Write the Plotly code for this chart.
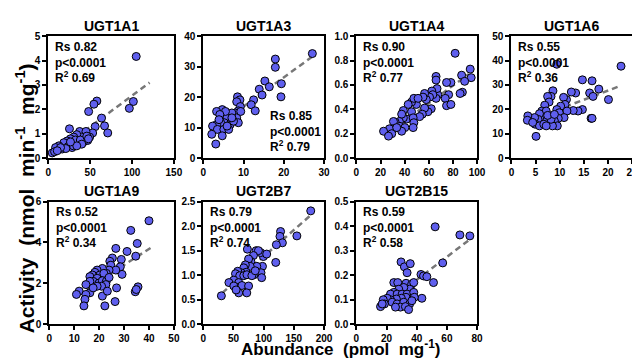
import plotly.graph_objects as go

W, H = 640, 360

# ---------------- data ----------------
ugt1a1_abundance = [105, 101.6, 96.8, 58, 54.5, 48.2, 63.6, 67.2, 71, 56, 53, 25.3, 37.5, 45, 49.4, 47, 40, 34,
                    30.4, 26.5, 22.5, 18.6, 28.5, 36, 42, 23.7, 28.5, 12.6, 8.7, 4.7, 7.5, 32.4, 38.3, 46, 16.6,
                    21, 30, 40, 34, 26.5, 48, 14.6, 10.7]
ugt1a1_activity = [4.17, 2.32, 2.04, 2.34, 2.21, 1.91, 1.64, 1.32, 1.03, 1.29, 1.03, 1.2, 1.09, 1.09, 0.86, 0.72,
                   0.86, 0.96, 0.86, 0.79, 0.70, 0.63, 0.57, 0.63, 0.66, 0.47, 0.43, 0.5, 0.43, 0.21, 0.26, 0.74,
                   0.74, 0.9, 0.37, 0.39, 0.5, 0.57, 0.5, 0.66, 0.79, 0.43, 0.3]

ugt1a3_abundance = [27.1, 17.9, 17.9, 19.4, 19.3, 15.3, 13.9, 16.4, 14.6, 12.5, 11.9, 12.9, 8.5, 9.1, 8.3, 9.2,
                    8.7, 7.9, 8.3, 8.7, 7.1, 5.9, 4.7, 3.3, 5.5, 4.1, 5.2, 6.7, 4.3, 3.3, 2.3, 3.5, 5.1, 6.3, 4.7,
                    3.1, 2.1, 7.5, 5.9, 3.9, 7.1, 9.3]
ugt1a3_activity = [34.3, 32.5, 29.8, 24.4, 20.1, 25.3, 22.6, 23.4, 20.7, 19.1, 17.5, 15.5, 20.1, 19.1, 18.5, 16.9,
                   15.5, 14.8, 13.2, 11.6, 14.8, 13.2, 15.9, 15.3, 15.3, 14.3, 11.6, 11.0, 11.6, 11.0, 10.5, 9.4,
                   9.4, 9.4, 7.3, 4.6, 7.8, 12.1, 10.5, 12.6, 13.2, 15.3]

ugt1a4_abundance = [81.8, 94.3, 95.1, 87.2, 89.7, 87.8, 85.9, 78.3, 74.7, 76.4, 73.6, 74.7, 78.3, 67.4, 66, 66, 66,
                    66.8, 62.5, 63.3, 60.6, 57.9, 56.5, 55.2, 62, 59.2, 56.5, 54.6, 52.4, 49.7, 45.7, 47.6, 51.1,
                    42.9, 38.9, 45.7, 41.6, 47, 47.6, 47, 38.9, 37.5, 35.6, 32.1, 30.7, 36.1, 40.2, 37.5, 30.7,
                    27.4, 29.3, 22.5, 26.6, 33.4]
ugt1a4_activity = [0.86, 0.73, 0.66, 0.68, 0.63, 0.54, 0.53, 0.62, 0.62, 0.52, 0.49, 0.43, 0.44, 0.52, 0.49, 0.67,
                   0.64, 0.57, 0.55, 0.52, 0.50, 0.48, 0.53, 0.50, 0.405, 0.38, 0.41, 0.36, 0.34, 0.44, 0.46,
                   0.49, 0.49, 0.44, 0.39, 0.38, 0.32, 0.33, 0.29, 0.25, 0.33, 0.36, 0.30, 0.295, 0.30, 0.26,
                   0.25, 0.22, 0.24, 0.24, 0.20, 0.22, 0.18, 0.25]

ugt1a6_abundance = [22.7, 9.4, 20.1, 18.1, 16.7, 14.7, 16.2, 16.9, 14.7, 13.8, 12.8, 13.3, 12.4, 11.4, 10.8, 11.1,
                    11.5, 10.2, 9.4, 9.9, 10.9, 9.7, 8.9, 9.5, 8.5, 8.6, 8.2, 7.5, 7.8, 6.9, 6.3, 7.2, 6.5, 5.8,
                    7.4, 8.2, 5.5, 4.8, 4.9, 5.8, 6.7, 3.4, 3.3, 4.4, 5.1, 7.2, 16.5, 16.7, 7.5, 8.9]
ugt1a6_activity = [37.7, 38.5, 24, 28.3, 31.7, 32.1, 26.7, 25.3, 19.9, 19.3, 19.5, 26.7, 27.1, 24, 24.9, 22, 19.3,
                   21.3, 19.9, 18.6, 16.6, 16.3, 15.2, 13.2, 13.2, 27.6, 25.3, 25.3, 23, 21.7, 19.3, 19.3, 16.6,
                   18.2, 15.9, 15.9, 15.9, 16.6, 13.9, 13.2, 13.9, 17.3, 15.5, 14.6, 8.9, 13.2, 16.3, 16.3,
                   17.5, 17.9]

ugt1a9_abundance = [40, 32.7, 35.3, 31.2, 34.7, 26.7, 25.3, 28.9, 24.3, 24.7, 28.5, 29.2, 26.7, 24, 22.9, 21.3,
                    19.2, 18.3, 17.3, 20.3, 21.9, 16.3, 19.2, 17.6, 16.3, 20, 21.3, 22.9, 24, 22.7, 21, 19.2,
                    14.7, 16.3, 12, 10.9, 14.7, 14.3, 13.9, 21.3, 22.3, 27, 26.4, 34.5, 35.6, 34.9, 23.3, 17.6]
ugt1a9_activity = [5.06, 4.59, 3.95, 3.56, 3.33, 3.71, 3.24, 3.17, 3.08, 2.89, 2.81, 2.44, 2.65, 2.65, 2.49, 2.73,
                   2.65, 2.54, 2.41, 2.41, 2.49, 2.33, 2.25, 2.1, 2.1, 2.02, 2.13, 2.1, 2.29, 1.94, 1.86, 1.86,
                   1.94, 1.54, 1.62, 1.46, 1.46, 1.22, 0.9, 1.38, 0.9, 1.78, 1.11, 1.59, 1.83, 1.7, 1.62, 1.78]

ugt2b7_abundance = [178, 155, 128, 127, 131, 121, 120, 99.5, 95, 87.5, 91.3, 73, 83, 78.8, 75, 98, 88.6, 95.6,
                    96.7, 84, 77.7, 69.6, 67, 71, 62.5, 57, 53.3, 60.3, 67, 72.3, 80.4, 50.5, 58.7, 42.4, 56,
                    64, 75, 50.5, 58.7, 72, 54.3, 29.9, 86, 105]
ugt2b7_activity = [2.31, 1.80, 1.89, 1.79, 1.66, 1.62, 1.26, 1.38, 1.46, 1.50, 1.50, 1.53, 1.40, 1.28, 1.33, 1.18,
                   1.18, 1.05, 0.95, 1.01, 1.18, 1.21, 1.15, 1.06, 1.05, 1.08, 1.03, 0.99, 0.99, 1.01, 0.99,
                   0.90, 0.85, 0.85, 0.75, 0.79, 0.78, 0.78, 0.64, 0.64, 0.70, 0.58, 1.09, 1.43]

ugt2b15_abundance = [52.2, 68.6, 75.2, 57.2, 51.1, 42.8, 44.5, 46.7, 43.4, 29.6, 31.8, 35.7, 33.6, 24.8, 27.4,
                     32.9, 36.6, 38, 35.3, 31.4, 28.1, 24.8, 22.6, 27, 30.3, 33.6, 38, 38.4, 32.9, 29.8, 26.5,
                     22.6, 20.4, 17.8, 18.6, 23.7, 27, 31.4, 35.3, 29.2, 32.5, 34.6, 25.9, 16, 17.1, 36.8]
ugt2b15_activity = [0.397, 0.364, 0.36, 0.25, 0.17, 0.203, 0.197, 0.194, 0.106, 0.254, 0.234, 0.247, 0.21, 0.17,
                    0.17, 0.167, 0.163, 0.17, 0.143, 0.15, 0.143, 0.13, 0.123, 0.123, 0.123, 0.123, 0.13, 0.11,
                    0.11, 0.106, 0.103, 0.1, 0.106, 0.1, 0.083, 0.09, 0.083, 0.09, 0.083, 0.07, 0.072, 0.06,
                    0.07, 0.072, 0.083, 0.096]

enzymes = ["UGT1A1", "UGT1A3", "UGT1A4", "UGT1A6", "UGT1A9", "UGT2B7", "UGT2B15"]
rs_values = ["0.82", "0.85", "0.90", "0.55", "0.52", "0.79", "0.59"]
p_values = ["p&lt;0.0001"] * 7
r2_values = ["0.69", "0.79", "0.77", "0.36", "0.34", "0.74", "0.58"]

# regression lines (slope, intercept, x-start, x-end)
fit_slope = [0.0255, 0.96, 0.00722, 0.755, 0.0783, 0.0108, 0.00468]
fit_intercept = [0.01, 7.3, 0.017, 12.6, 0.55, 0.30, -0.006]
fit_x_start = [4.7, 1.7, 23.9, 3.4, 11.6, 31.5, 18.2]
fit_x_end = [121, 27.4, 93.2, 22.2, 41.6, 181, 75.2]

x_max = [150, 30, 100, 25, 50, 200, 80]
x_dtick = [50, 10, 20, 5, 10, 50, 20]
y_max = [5, 40, 1.0, 50, 6, 2.5, 0.5]
y_dtick = [1, 10, 0.2, 10, 2, 0.5, 0.1]
y_fmt = ["d", "d", ".1f", "d", "d", ".1f", ".1f"]

abundance = [ugt1a1_abundance, ugt1a3_abundance, ugt1a4_abundance, ugt1a6_abundance,
             ugt1a9_abundance, ugt2b7_abundance, ugt2b15_abundance]
activity = [ugt1a1_activity, ugt1a3_activity, ugt1a4_activity, ugt1a6_activity,
            ugt1a9_activity, ugt2b7_activity, ugt2b15_activity]

# ---------------- layout geometry (pixels) ----------------
panel_px = [  # left, right, top, bottom
    (38, 166, 23, 149), (196, 319, 23, 149), (352, 475, 23, 149), (510, 633, 23, 149),
    (39, 166, 194, 321), (196, 319, 194, 321), (352, 475, 194, 321),
]

FONT = "Liberation Sans, Arial, sans-serif"
MARKER = "#5F5FEE"

fig = go.Figure()
layout = dict(
    width=W, height=H, margin=dict(l=0, r=0, t=0, b=0),
    plot_bgcolor="white", paper_bgcolor="white", showlegend=False,
    font=dict(family=FONT, color="black"),
)
annotations = []

for i in range(7):
    n = i + 1
    xa = "x" if n == 1 else f"x{n}"
    ya = "y" if n == 1 else f"y{n}"
    l, r, t, b = panel_px[i]
    axis_common = dict(
        showline=True, linewidth=2, linecolor="black", mirror=True,
        ticks="outside", ticklen=4, tickwidth=1.5, tickcolor="black",
        showgrid=False, zeroline=False,
        tickfont=dict(family=FONT, size=10, color="black", weight="bold"),
    )
    layout["xaxis" if n == 1 else f"xaxis{n}"] = dict(
        domain=[l / W, r / W], range=[0, x_max[i]], tick0=0, dtick=x_dtick[i],
        anchor=ya, **axis_common)
    layout["yaxis" if n == 1 else f"yaxis{n}"] = dict(
        domain=[1 - b / H, 1 - t / H], range=[0, y_max[i]], tick0=0, dtick=y_dtick[i],
        tickformat=y_fmt[i], anchor=xa, **axis_common)

    xs = [fit_x_start[i], fit_x_end[i]]
    ys = [fit_intercept[i] + fit_slope[i] * v for v in xs]
    fig.add_trace(go.Scatter(x=xs, y=ys, mode="lines", xaxis=xa, yaxis=ya,
                             line=dict(color="#777777", width=2.5, dash="6px,4px"),
                             hoverinfo="skip"))
    fig.add_trace(go.Scatter(x=abundance[i], y=activity[i], mode="markers", xaxis=xa, yaxis=ya,
                             marker=dict(size=8, color=MARKER, line=dict(color="black", width=1)),
                             cliponaxis=False))

    # panel title
    annotations.append(dict(text=f"<b>{enzymes[i]}</b>", xref="paper", yref="paper",
                            x=(l + r) / 2 / W, y=1 - (t - 11) / H, xanchor="center", yanchor="middle",
                            showarrow=False, font=dict(family=FONT, size=14, color="black")))
    # statistics
    stats = f"<b>Rs {rs_values[i]}<br>{p_values[i]}<br>R<sup>2</sup> {r2_values[i]}</b>"
    if enzymes[i] == "UGT1A3":
        annotations.append(dict(text=stats, xref=f"{xa} domain", yref=f"{ya} domain",
                                x=0.54, y=0.02, xanchor="left", yanchor="bottom", align="left",
                                showarrow=False, font=dict(family=FONT, size=12, color="black")))
    else:
        annotations.append(dict(text=stats, xref=f"{xa} domain", yref=f"{ya} domain",
                                x=0.035, y=0.985, xanchor="left", yanchor="top", align="left",
                                showarrow=False, font=dict(family=FONT, size=12, color="black")))

# overall axis titles
annotations.append(dict(text="<b>Abundance  (pmol  mg<sup>-1</sup>)</b>", xref="paper", yref="paper",
                        x=336 / W, y=1 - 345.5 / H, xanchor="center", yanchor="middle", showarrow=False,
                        font=dict(family=FONT, size=17, color="black")))
annotations.append(dict(text="<b>Activity  (nmol  min<sup>-1</sup>  mg<sup>-1</sup>)</b>", xref="paper",
                        yref="paper", x=14 / W, y=1 - 191 / H, xanchor="center", yanchor="middle",
                        textangle=-90, showarrow=False, font=dict(family=FONT, size=21, color="black")))

layout["annotations"] = annotations
fig.update_layout(**layout)
fig.write_html("out.html")
